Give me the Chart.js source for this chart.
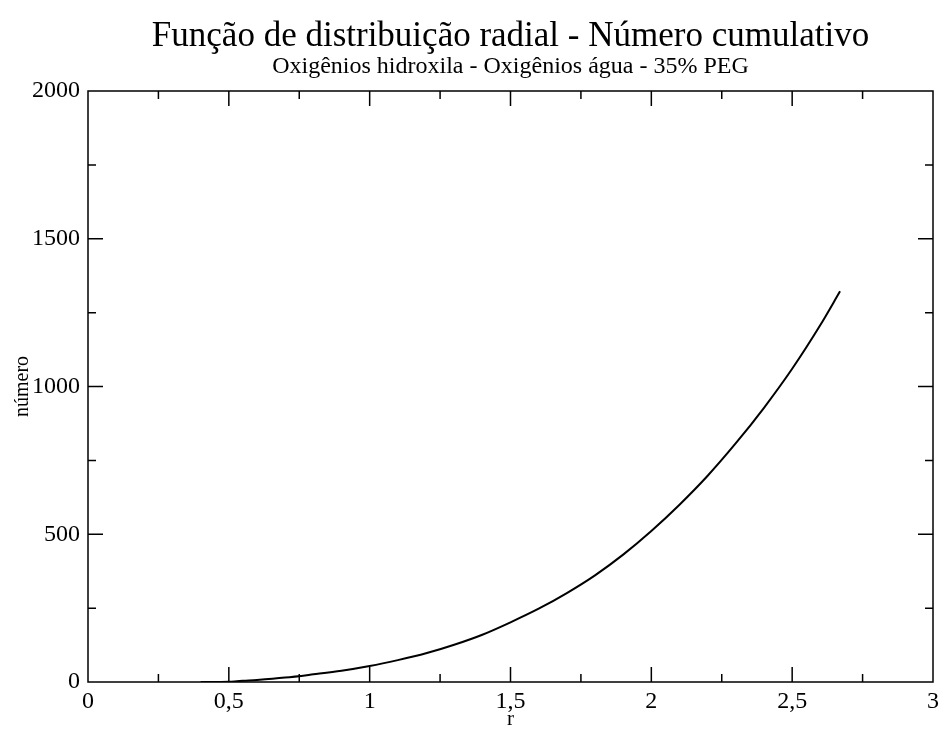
<!DOCTYPE html>
<html>
<head>
<meta charset="utf-8">
<script src="https://cdn.jsdelivr.net/npm/chart.js@4"></script>
<style>
html,body{margin:0;padding:0;background:#fff;}
canvas{display:block;}
</style>
</head>
<body>
<canvas id="c" width="944" height="733"></canvas>
<script>
const titleText = "Função de distribuição radial - Número cumulativo";
const subtitleText = "Oxigênios hidroxila - Oxigênios água - 35% PEG";
const xAxisTitle = "r";
const yAxisTitle = "número";
const rValues = [0.40, 0.45, 0.50, 0.52, 0.55, 0.60, 0.70, 0.80, 0.90, 1.00, 1.10, 1.20, 1.30, 1.40, 1.50, 1.60, 1.70, 1.80, 1.90, 2.00, 2.10, 2.20, 2.30, 2.40, 2.50, 2.60, 2.67];
const numeroValues = [0, 0, 1, 2, 4, 7, 15, 26, 38, 54, 74, 97, 126, 160, 202, 248, 301, 361, 431, 511, 600, 698, 808, 928, 1060, 1208, 1322];
const xTicksMajor = [0, 0.5, 1, 1.5, 2, 2.5, 3];
const yTicksMajor = [0, 500, 1000, 1500, 2000];

const serif = "'Liberation Serif', 'DejaVu Serif', serif";

const tickPlugin = {
  id: 'inwardTicks',
  afterDraw(chart) {
    const {ctx, chartArea: a, scales: {x, y}} = chart;
    ctx.save();
    ctx.strokeStyle = '#000';
    ctx.lineWidth = 1.5;
    ctx.strokeRect(a.left, a.top, a.right - a.left, a.bottom - a.top);
    const major = 15, minor = 8;
    ctx.beginPath();
    for (let i = 0; i < xTicksMajor.length; i++) {
      const v = xTicksMajor[i];
      const px = x.getPixelForValue(v);
      if (v > x.min && v < x.max) {
        ctx.moveTo(px, a.bottom); ctx.lineTo(px, a.bottom - major);
        ctx.moveTo(px, a.top); ctx.lineTo(px, a.top + major);
      }
      if (i < xTicksMajor.length - 1) {
        const m = x.getPixelForValue((v + xTicksMajor[i + 1]) / 2);
        ctx.moveTo(m, a.bottom); ctx.lineTo(m, a.bottom - minor);
        ctx.moveTo(m, a.top); ctx.lineTo(m, a.top + minor);
      }
    }
    for (let i = 0; i < yTicksMajor.length; i++) {
      const v = yTicksMajor[i];
      const py = y.getPixelForValue(v);
      if (v > y.min && v < y.max) {
        ctx.moveTo(a.left, py); ctx.lineTo(a.left + major, py);
        ctx.moveTo(a.right, py); ctx.lineTo(a.right - major, py);
      }
      if (i < yTicksMajor.length - 1) {
        const m = y.getPixelForValue((v + yTicksMajor[i + 1]) / 2);
        ctx.moveTo(a.left, m); ctx.lineTo(a.left + minor, m);
        ctx.moveTo(a.right, m); ctx.lineTo(a.right - minor, m);
      }
    }
    ctx.stroke();
    ctx.restore();
  }
};

new Chart(document.getElementById('c'), {
  type: 'line',
  data: {
    datasets: [{
      data: rValues.map((r, i) => ({x: r, y: numeroValues[i]})),
      borderColor: '#000',
      borderWidth: 2,
      pointRadius: 0,
      fill: false,
      cubicInterpolationMode: 'monotone'
    }]
  },
  options: {
    responsive: false,
    animation: false,
    layout: {padding: {left: 0, right: 9, top: 0, bottom: 0}},
    plugins: {
      legend: {display: false},
      tooltip: {enabled: false},
      title: {
        display: true, text: titleText, color: '#000', fullSize: false,
        font: {family: serif, size: 35, weight: 'normal', lineHeight: 1.0},
        padding: {top: 19, bottom: 1}
      },
      subtitle: {
        display: true, text: subtitleText, color: '#000', fullSize: false,
        font: {family: serif, size: 24, weight: 'normal', lineHeight: 1.0},
        padding: {top: 0, bottom: 12}
      }
    },
    scales: {
      x: {
        type: 'linear', min: 0, max: 3,
        afterFit(s) { s.height = 51; },
        border: {display: false},
        grid: {display: false, drawTicks: false},
        ticks: {
          stepSize: 0.5, padding: 5, color: '#000', maxRotation: 0,
          font: {family: serif, size: 24},
          callback: v => String(v).replace('.', ',')
        },
        title: {display: true, text: xAxisTitle, color: '#000',
          font: {family: serif, size: 21}, padding: {top: 0, bottom: 1}}
      },
      y: {
        type: 'linear', min: 0, max: 2000,
        afterFit(s) { s.width = 88; },
        border: {display: false},
        grid: {display: false, drawTicks: false},
        ticks: {
          stepSize: 500, padding: 8, color: '#000',
          font: {family: serif, size: 24},
          callback: v => String(v)
        },
        title: {display: true, text: yAxisTitle, color: '#000',
          font: {family: serif, size: 20}, padding: {top: 11, bottom: 0}}
      }
    }
  },
  plugins: [tickPlugin]
});
</script>
</body>
</html>
